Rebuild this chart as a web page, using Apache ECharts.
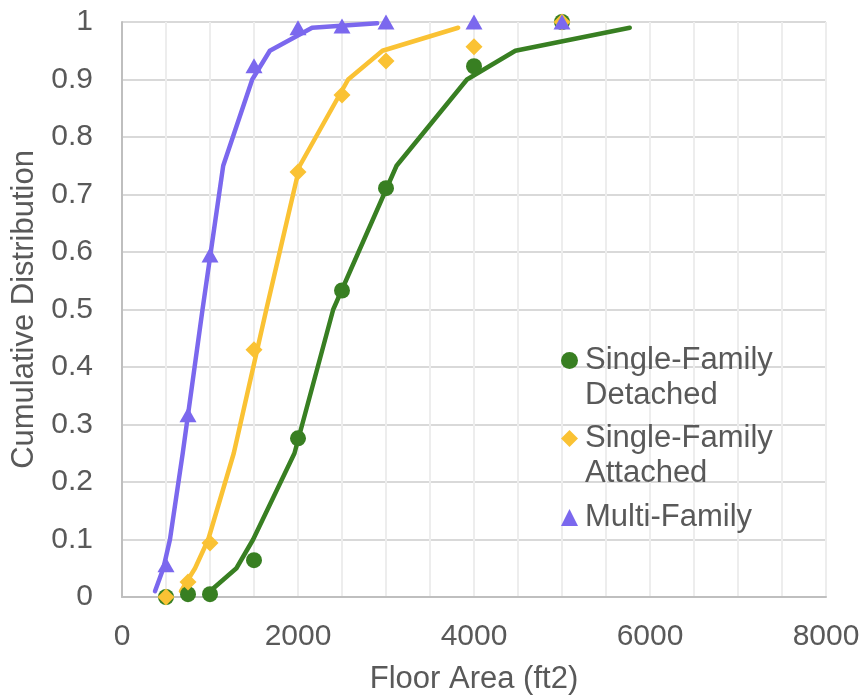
<!DOCTYPE html>
<html>
<head>
<meta charset="utf-8">
<script src="https://cdn.jsdelivr.net/npm/echarts@6/dist/echarts.min.js"></script>
<style>html,body{margin:0;padding:0;background:#fff;}#chart{width:860px;height:698px;}</style>
</head>
<body>
<div id="chart"></div>
<script>
// Marker data (floor area bins)
const markerX = [500, 750, 1000, 1500, 2000, 2500, 3000, 4000, 5000];
const sfdMarkers = [0, 0.005, 0.005, 0.064, 0.276, 0.533, 0.711, 0.923, 1.0];
const sfaMarkers = [0, 0.026, 0.094, 0.43, 0.739, 0.873, 0.932, 0.957, 1.0];
const mfMarkers  = [0.056, 0.317, 0.595, 0.924, 0.99, 0.993, 1.0, 1.0, 1.0];

// Line data (percentile curves)
const lineY = [0.01, 0.05, 0.1, 0.25, 0.5, 0.75, 0.9, 0.95, 0.99];
const sfdLineX = [1000, 1300, 1490, 1960, 2400, 3120, 3920, 4470, 5770];
const sfaLineX = [670, 830, 980, 1270, 1640, 2020, 2570, 2960, 3820];
const mfLineX  = [375, 470, 545, 690, 915, 1150, 1480, 1680, 2160];
const mfLineTail = [2900, 0.998];

const names = ['Single-Family Detached', 'Single-Family Attached', 'Multi-Family'];
const colors = ['#387F22', '#FAC234', '#7B68EE'];
const xTicks = [0, 2000, 4000, 6000, 8000];

const pair = (xs, ys) => xs.map((x, i) => [x, ys[i]]);
const font = 'Liberation Sans, Arial, sans-serif';
const textColor = '#595959';

const mfLine = pair(mfLineX, lineY).concat([mfLineTail]);

const chart = echarts.init(document.getElementById('chart'));

function legendFor(i, top, twoLine) {
  return {
    data: [names[i]],
    left: 561,
    top: top,
    padding: 0,
    orient: 'vertical',
    itemWidth: 17,
    itemHeight: 17,
    selectedMode: false,
    formatter: n => twoLine ? ' \n' + n.replace('Family ', 'Family\n') : n,
    textStyle: {
      fontFamily: font,
      fontSize: 31,
      color: textColor,
      lineHeight: 35,
      padding: [0, 0, 0, 2]
    }
  };
}

const lineSeries = [pair(sfdLineX, lineY), pair(sfaLineX, lineY), mfLine].map((d, i) => ({
  name: names[i] + ' line',
  type: 'line',
  data: d,
  showSymbol: false,
  symbol: 'none',
  silent: true,
  lineStyle: { color: colors[i], width: 4.5, cap: 'round', join: 'round' },
  z: 2
}));

const symbols = ['circle', 'diamond', 'triangle'];
const sizes = [[16, 16], [17, 17], [17, 15]];
const scatterSeries = [sfdMarkers, sfaMarkers, mfMarkers].map((ys, i) => ({
  name: names[i],
  type: 'scatter',
  data: pair(markerX, ys),
  symbol: symbols[i],
  symbolSize: sizes[i],
  itemStyle: { color: colors[i], opacity: 1 },
  z: 3 + i
}));

chart.setOption({
  animation: false,
  grid: { left: 122, right: 34, top: 22, bottom: 101, containLabel: false, outerBoundsMode: 'none' },
  legend: [
    legendFor(0, 308, true),
    legendFor(1, 386, true),
    legendFor(2, 500, false)
  ],
  xAxis: {
    type: 'value',
    min: xTicks[0],
    max: xTicks[xTicks.length - 1],
    interval: 2000,
    name: 'Floor Area (ft2)',
    nameLocation: 'middle',
    nameGap: 67,
    nameTextStyle: { fontFamily: font, fontSize: 31, color: textColor },
    axisLine: { show: true, lineStyle: { color: '#BFBFBF', width: 2 } },
    axisTick: { show: false },
    axisLabel: { fontFamily: font, fontSize: 30, color: textColor, margin: 25,
      formatter: v => String(v) },
    splitLine: { show: true, lineStyle: { color: '#EDEDED', width: 2 } },
    minorTick: { show: false, splitNumber: 4 },
    minorSplitLine: { show: true, lineStyle: { color: '#EDEDED', width: 2 } }
  },
  yAxis: {
    type: 'value',
    min: 0,
    max: 1,
    interval: 0.1,
    name: 'Cumulative Distribution',
    nameLocation: 'middle',
    nameGap: 80,
    nameTextStyle: { fontFamily: font, fontSize: 31, color: textColor },
    axisLine: { show: true, lineStyle: { color: '#BFBFBF', width: 2 } },
    axisTick: { show: false },
    axisLabel: { fontFamily: font, fontSize: 30, color: textColor, margin: 29,
      formatter: v => String(Math.round(v * 10) / 10) },
    splitLine: { show: true, lineStyle: { color: '#D9D9D9', width: 2 } }
  },
  series: lineSeries.concat(scatterSeries)
});
</script>
</body>
</html>
